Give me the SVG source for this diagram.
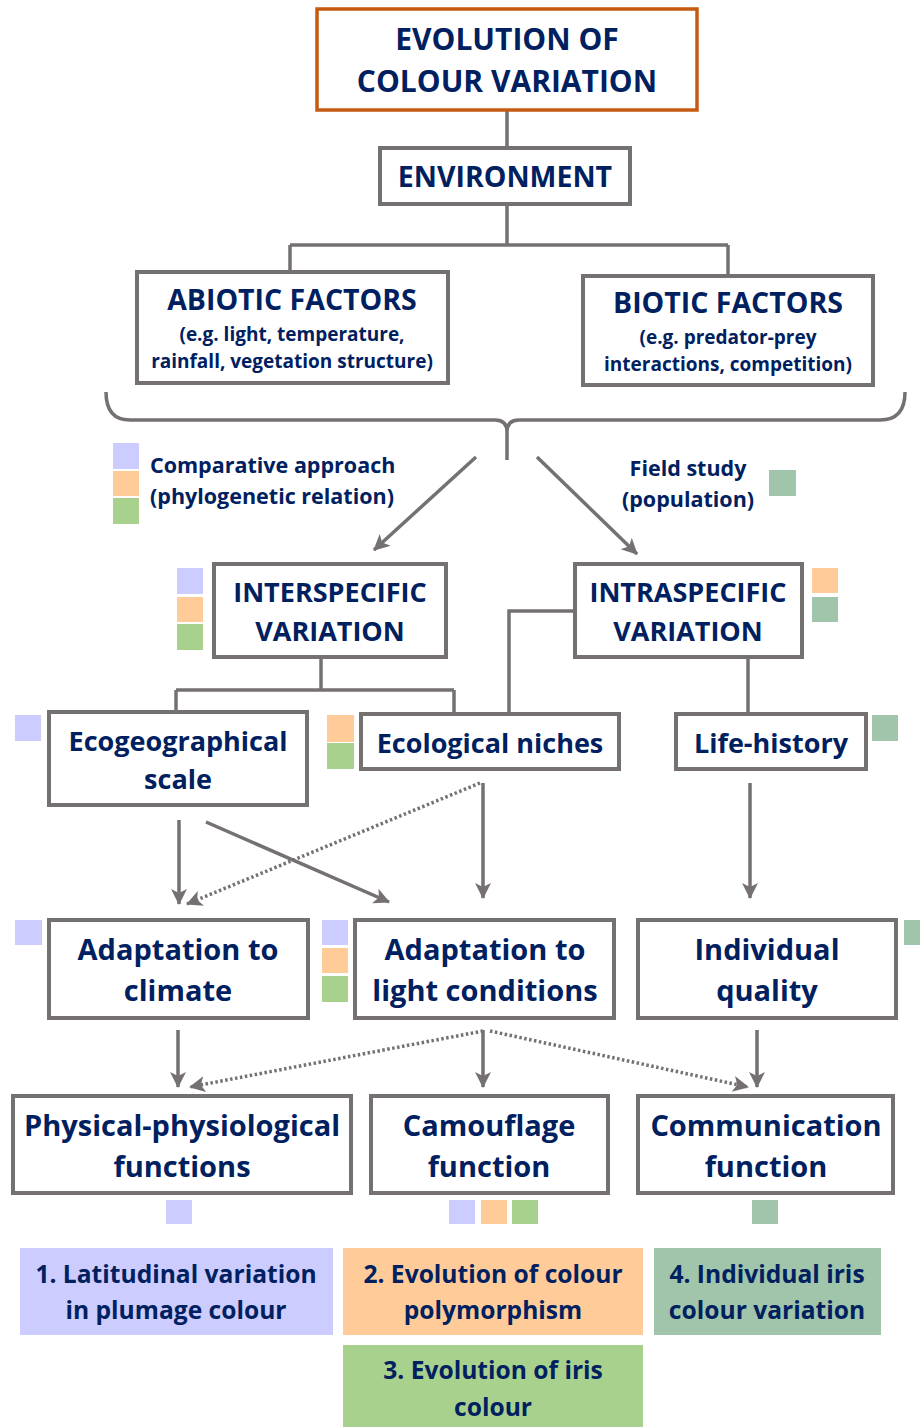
<svg xmlns="http://www.w3.org/2000/svg" width="920" height="1427" viewBox="0 0 920 1427">
<style>
.box{fill:#fff;stroke:#767171;stroke-width:4}
.t{font-family:"Open Sans",Lato,"Liberation Sans",sans-serif;font-weight:bold;fill:#002060;text-anchor:middle}
.ttl{font-size:30px}
.big{font-size:29px}
.mid{font-size:27px}
.cap{font-size:28.5px}
.sm{font-size:19px}
.lab{font-size:21.5px}
.bot{font-size:24.6px}
.con{fill:none;stroke:#767171;stroke-width:3.5}
.dot{fill:none;stroke:#767171;stroke-width:3.5;stroke-dasharray:2.5 2.5}
.lav{fill:#CCCCFF}.pea{fill:#FFCC99}.grn{fill:#A9D18E}.tea{fill:#A0C5AA}
</style>
<defs>
<marker id="ah" markerUnits="userSpaceOnUse" markerWidth="18" markerHeight="18" refX="15" refY="8" orient="auto">
<path d="M0,0 L16,8 L0,16 L4,8 Z" fill="#767171"/>
</marker>
</defs>
<g id="connectors">
<path class="con" d="M507,110 V148"/>
<path class="con" d="M507,204 V245 M290,245 H728 M290,245 V272 M728,245 V275"/>
<path class="con" d="M106,392 Q106,420 130,420 H495 Q507,420 507,432 V460 M507,432 Q507,420 519,420 H880 Q905,420 905,392"/>
<line class="con" x1="476" y1="457" x2="374" y2="550" marker-end="url(#ah)"/>
<line class="con" x1="537" y1="457" x2="637" y2="554" marker-end="url(#ah)"/>
<path class="con" d="M321,657 V690 M176,690 H454 M176,690 V712 M454,690 V714"/>
<path class="con" d="M575,611 H509 V714"/>
<path class="con" d="M748,657 V714"/>
<line class="con" x1="179" y1="820" x2="179" y2="904" marker-end="url(#ah)"/>
<line class="con" x1="206" y1="822" x2="389" y2="902" marker-end="url(#ah)"/>
<line class="dot" x1="480" y1="783" x2="187" y2="904" marker-end="url(#ah)"/>
<line class="con" x1="483" y1="783" x2="483" y2="898" marker-end="url(#ah)"/>
<line class="con" x1="750" y1="783" x2="750" y2="898" marker-end="url(#ah)"/>
<line class="con" x1="178" y1="1030" x2="178" y2="1087" marker-end="url(#ah)"/>
<line class="dot" x1="483" y1="1031" x2="190" y2="1087" marker-end="url(#ah)"/>
<line class="con" x1="483" y1="1030" x2="483" y2="1087" marker-end="url(#ah)"/>
<line class="dot" x1="490" y1="1031" x2="748" y2="1087" marker-end="url(#ah)"/>
<line class="con" x1="757" y1="1030" x2="757" y2="1087" marker-end="url(#ah)"/>
</g>
<g id="title">
<rect x="317" y="9" width="380" height="101" fill="#fff" stroke="#C55A11" stroke-width="3.5"/>
<text class="t ttl" x="507" y="50">EVOLUTION OF</text>
<text class="t ttl" x="507" y="92">COLOUR VARIATION</text>
</g>
<g id="environment">
<rect class="box" x="380" y="148" width="250" height="56"/>
<text class="t cap" x="505" y="187">ENVIRONMENT</text>
</g>
<g id="abiotic">
<rect class="box" x="137" y="272" width="311" height="111"/>
<text class="t cap" x="292" y="310">ABIOTIC FACTORS</text>
<text class="t sm" x="292" y="341">(e.g. light, temperature,</text>
<text class="t sm" x="292" y="368">rainfall, vegetation structure)</text>
</g>
<g id="biotic">
<rect class="box" x="583" y="276" width="290" height="109"/>
<text class="t cap" x="728" y="313">BIOTIC FACTORS</text>
<text class="t sm" x="728" y="344">(e.g. predator-prey</text>
<text class="t sm" x="728" y="371">interactions, competition)</text>
</g>
<g id="comparative">
<rect class="lav" x="113" y="443" width="26" height="26"/>
<rect class="pea" x="113" y="471" width="26" height="25"/>
<rect class="grn" x="113" y="498" width="26" height="26"/>
<text class="t lab" x="150" y="473" style="text-anchor:start">Comparative approach</text>
<text class="t lab" x="150" y="504" style="text-anchor:start">(phylogenetic relation)</text>
</g>
<g id="field">
<text class="t lab" x="688" y="476">Field study</text>
<text class="t lab" x="688" y="507">(population)</text>
<rect class="tea" x="769" y="470" width="27" height="26"/>
</g>
<g id="interspecific">
<rect class="box" x="214" y="564" width="232" height="93"/>
<text class="t mid" x="330" y="602">INTERSPECIFIC</text>
<text class="t mid" x="330" y="641">VARIATION</text>
<rect class="lav" x="177" y="568" width="26" height="26"/>
<rect class="pea" x="177" y="597" width="26" height="25"/>
<rect class="grn" x="177" y="624" width="26" height="26"/>
</g>
<g id="intraspecific">
<rect class="box" x="575" y="564" width="227" height="93"/>
<text class="t mid" x="688" y="602">INTRASPECIFIC</text>
<text class="t mid" x="688" y="641">VARIATION</text>
<rect class="pea" x="812" y="568" width="26" height="25"/>
<rect class="tea" x="812" y="597" width="26" height="25"/>
</g>
<g id="ecogeographical">
<rect class="box" x="49" y="712" width="258" height="93"/>
<text class="t mid" x="178" y="751">Ecogeographical</text>
<text class="t mid" x="178" y="789">scale</text>
<rect class="lav" x="15" y="715" width="26" height="26"/>
</g>
<g id="niches">
<rect class="box" x="361" y="714" width="258" height="55"/>
<text class="t mid" x="490" y="753">Ecological niches</text>
<rect class="pea" x="327" y="715" width="27" height="27"/>
<rect class="grn" x="327" y="743" width="27" height="26"/>
</g>
<g id="lifehistory">
<rect class="box" x="676" y="714" width="190" height="55"/>
<text class="t mid" x="771" y="753">Life-history</text>
<rect class="tea" x="872" y="715" width="26" height="26"/>
</g>
<g id="climate">
<rect class="box" x="49" y="920" width="259" height="98"/>
<text class="t big" x="178" y="960">Adaptation to</text>
<text class="t big" x="178" y="1001">climate</text>
<rect class="lav" x="15" y="920" width="27" height="25"/>
</g>
<g id="light">
<rect class="box" x="355" y="920" width="259" height="98"/>
<text class="t big" x="485" y="960">Adaptation to</text>
<text class="t big" x="485" y="1001">light conditions</text>
<rect class="lav" x="322" y="920" width="26" height="25"/>
<rect class="pea" x="322" y="948" width="26" height="25"/>
<rect class="grn" x="322" y="976" width="26" height="26"/>
</g>
<g id="quality">
<rect class="box" x="638" y="920" width="258" height="98"/>
<text class="t big" x="767" y="960">Individual</text>
<text class="t big" x="767" y="1001">quality</text>
<rect class="tea" x="904" y="920" width="20" height="25"/>
</g>
<g id="physical">
<rect class="box" x="13" y="1096" width="338" height="97"/>
<text class="t big" x="182" y="1136">Physical-physiological</text>
<text class="t big" x="182" y="1177">functions</text>
<rect class="lav" x="166" y="1200" width="26" height="24"/>
</g>
<g id="camouflage">
<rect class="box" x="371" y="1096" width="237" height="97"/>
<text class="t big" x="489" y="1136">Camouflage</text>
<text class="t big" x="489" y="1177">function</text>
<rect class="lav" x="449" y="1200" width="26" height="24"/>
<rect class="pea" x="481" y="1200" width="26" height="24"/>
<rect class="grn" x="512" y="1200" width="26" height="24"/>
</g>
<g id="communication">
<rect class="box" x="638" y="1096" width="255" height="97"/>
<text class="t big" x="766" y="1136">Communication</text>
<text class="t big" x="766" y="1177">function</text>
<rect class="tea" x="752" y="1200" width="26" height="24"/>
</g>
<g id="study1">
<rect class="lav" x="20" y="1248" width="313" height="87"/>
<text class="t bot" x="176" y="1283">1. Latitudinal variation</text>
<text class="t bot" x="176" y="1319">in plumage colour</text>
</g>
<g id="study2">
<rect class="pea" x="343" y="1248" width="300" height="87"/>
<text class="t bot" x="493" y="1283">2. Evolution of colour</text>
<text class="t bot" x="493" y="1319">polymorphism</text>
</g>
<g id="study4">
<rect class="tea" x="654" y="1248" width="227" height="87"/>
<text class="t bot" x="767" y="1283">4. Individual iris</text>
<text class="t bot" x="767" y="1319">colour variation</text>
</g>
<g id="study3">
<rect class="grn" x="343" y="1345" width="300" height="82"/>
<text class="t bot" x="493" y="1379">3. Evolution of iris</text>
<text class="t bot" x="493" y="1416">colour</text>
</g>
</svg>
